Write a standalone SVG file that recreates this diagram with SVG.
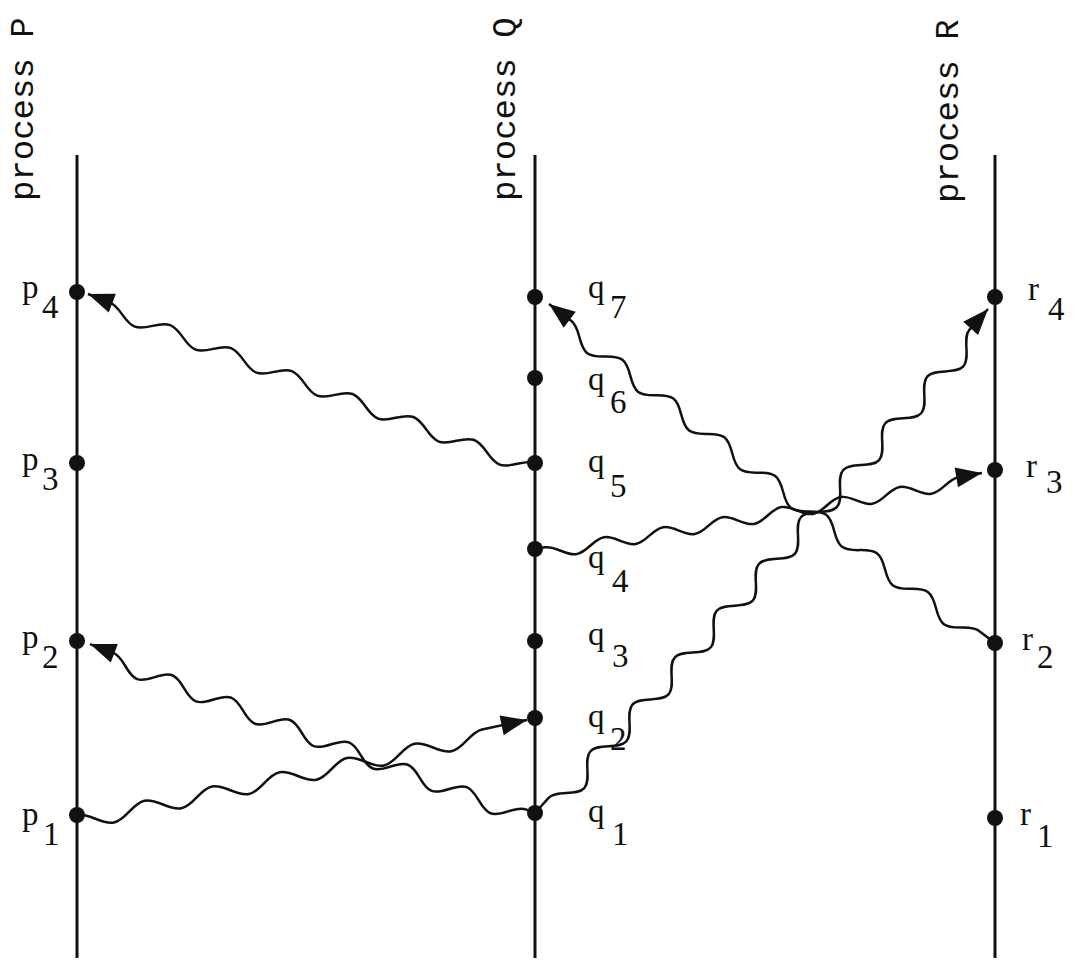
<svg xmlns="http://www.w3.org/2000/svg" width="1080" height="961" viewBox="0 0 1080 961">
<style>
.proc{font-family:"Liberation Mono","DejaVu Sans Mono",monospace;font-size:34px;fill:#111}
.ev{font-family:"Liberation Serif","DejaVu Serif",serif;font-size:33px;fill:#111}
.life{stroke:#111;stroke-width:3;fill:none}
.msg{stroke:#111;stroke-width:2.5;fill:none;marker-end:url(#arr)}
.dot{fill:#111}
</style>
<defs>
<marker id="arr" markerUnits="userSpaceOnUse" markerWidth="30" markerHeight="24" viewBox="-28 -12 30 24" refX="0" refY="0" orient="auto">
<path d="M0,0 L-26,-10 L-26,10 Z" fill="#111"/>
</marker>
</defs>
<rect width="1080" height="961" fill="#fff"/>
<g id="process-P">
<text class="proc" transform="translate(33,201) rotate(-90)">process P</text>
<line class="life" x1="77" y1="155" x2="77" y2="958"/>
</g>
<g id="process-Q">
<text class="proc" transform="translate(515,201) rotate(-90)">process Q</text>
<line class="life" x1="535" y1="155" x2="535" y2="958"/>
</g>
<g id="process-R">
<text class="proc" transform="translate(958,203) rotate(-90)">process R</text>
<line class="life" x1="995" y1="155" x2="995" y2="958"/>
</g>
<g id="connectors">
<path id="p1-q2" class="msg" transform="translate(77,815) rotate(-11.92)" d="M0,0 c12.56,0 21.94,15 34.5,15 s21.94,-15 34.5,-15 s21.94,15 34.5,15 s21.94,-15 34.5,-15 s21.94,15 34.5,15 s21.94,-15 34.5,-15 s21.94,15 34.5,15 s21.94,-15 34.5,-15 s21.94,15 34.5,15 s21.94,-15 34.5,-15 s21.94,15 34.5,15 s21.94,-15 34.5,-15 l46,0"/>
<path id="q1-p2" class="msg" transform="translate(535,813) rotate(-159.21)" d="M0,0 l10,0 c11.47,0 20.03,-16 31.5,-16 s20.03,16 31.5,16 s20.03,-16 31.5,-16 s20.03,16 31.5,16 s20.03,-16 31.5,-16 s20.03,16 31.5,16 s20.03,-16 31.5,-16 s20.03,16 31.5,16 s20.03,-16 31.5,-16 s20.03,16 31.5,16 s20.03,-16 31.5,-16 s20.03,16 31.5,16 s20.03,-16 31.5,-16 s20.03,16 31.5,16 l25,0"/>
<path id="q5-p4" class="msg" transform="translate(535,463) rotate(-159.29)" d="M0,0 c11.83,0 20.67,-14 32.5,-14 s20.67,14 32.5,14 s20.67,-14 32.5,-14 s20.67,14 32.5,14 s20.67,-14 32.5,-14 s20.67,14 32.5,14 s20.67,-14 32.5,-14 s20.67,14 32.5,14 s20.67,-14 32.5,-14 s20.67,14 32.5,14 s20.67,-14 32.5,-14 s20.67,14 32.5,14 s20.67,-14 32.5,-14 s20.67,14 32.5,14 l22.9,0"/>
<path id="q1-r4" class="msg" transform="translate(535,813) rotate(-48.05)" d="M0,0 l20,0 c11.47,0 20.03,20 31.5,20 s20.03,-20 31.5,-20 s20.03,20 31.5,20 s20.03,-20 31.5,-20 s20.03,20 31.5,20 s20.03,-20 31.5,-20 s20.03,20 31.5,20 s20.03,-20 31.5,-20 s20.03,20 31.5,20 s20.03,-20 31.5,-20 s20.03,20 31.5,20 s20.03,-20 31.5,-20 s20.03,20 31.5,20 s20.03,-20 31.5,-20 s20.03,20 31.5,20 s20.03,-20 31.5,-20 s20.03,20 31.5,20 s20.03,-20 31.5,-20 s20.03,20 31.5,20 s20.03,-20 31.5,-20 l27.7,0"/>
<path id="q4-r3" class="msg" transform="translate(535,549) rotate(-9.65)" d="M0,0 l10,0 c10.92,0 19.08,12 30,12 s19.08,-12 30,-12 s19.08,12 30,12 s19.08,-12 30,-12 s19.08,12 30,12 s19.08,-12 30,-12 s19.08,12 30,12 s19.08,-12 30,-12 s19.08,12 30,12 s19.08,-12 30,-12 s19.08,12 30,12 s19.08,-12 30,-12 s19.08,12 30,12 s19.08,-12 30,-12 l23.4,0"/>
<path id="r2-q7" class="msg" transform="translate(995,643) rotate(-142.76)" d="M0,0 l20,0 c11.65,0 20.35,-16 32,-16 s20.35,16 32,16 s20.35,-16 32,-16 s20.35,16 32,16 s20.35,-16 32,-16 s20.35,16 32,16 s20.35,-16 32,-16 s20.35,16 32,16 s20.35,-16 32,-16 s20.35,16 32,16 s20.35,-16 32,-16 s20.35,16 32,16 s20.35,-16 32,-16 s20.35,16 32,16 s20.35,-16 32,-16 s20.35,16 32,16 l28.2,0"/>
</g>
<g id="p4"><circle class="dot" cx="77" cy="292" r="8"/><text class="ev" x="22" y="298">p<tspan x="42" y="318">4</tspan></text></g>
<g id="p3"><circle class="dot" cx="77" cy="463" r="8"/><text class="ev" x="22" y="470">p<tspan x="42" y="490">3</tspan></text></g>
<g id="p2"><circle class="dot" cx="77" cy="641" r="8"/><text class="ev" x="22" y="648">p<tspan x="42" y="668">2</tspan></text></g>
<g id="p1"><circle class="dot" cx="77" cy="815" r="8"/><text class="ev" x="22" y="825">p<tspan x="43" y="845">1</tspan></text></g>
<g id="q7"><circle class="dot" cx="535" cy="297" r="8"/><text class="ev" x="588" y="298">q<tspan x="610" y="318">7</tspan></text></g>
<g id="q6"><circle class="dot" cx="535" cy="378" r="8"/><text class="ev" x="588" y="390">q<tspan x="610" y="413">6</tspan></text></g>
<g id="q5"><circle class="dot" cx="535" cy="463" r="8"/><text class="ev" x="588" y="472">q<tspan x="610" y="497">5</tspan></text></g>
<g id="q4"><circle class="dot" cx="535" cy="549" r="8"/><text class="ev" x="588" y="568">q<tspan x="612" y="592">4</tspan></text></g>
<g id="q3"><circle class="dot" cx="535" cy="641" r="8"/><text class="ev" x="588" y="645">q<tspan x="612" y="667">3</tspan></text></g>
<g id="q2"><circle class="dot" cx="535" cy="718" r="8"/><text class="ev" x="588" y="727">q<tspan x="610" y="750">2</tspan></text></g>
<g id="q1"><circle class="dot" cx="535" cy="813" r="8"/><text class="ev" x="588" y="822">q<tspan x="612" y="845">1</tspan></text></g>
<g id="r4"><circle class="dot" cx="995" cy="297" r="8"/><text class="ev" x="1028" y="300">r<tspan x="1048" y="320">4</tspan></text></g>
<g id="r3"><circle class="dot" cx="995" cy="470" r="8"/><text class="ev" x="1026" y="477">r<tspan x="1046" y="493">3</tspan></text></g>
<g id="r2"><circle class="dot" cx="995" cy="643" r="8"/><text class="ev" x="1022" y="650">r<tspan x="1037" y="668">2</tspan></text></g>
<g id="r1"><circle class="dot" cx="995" cy="818" r="8"/><text class="ev" x="1020" y="825">r<tspan x="1037" y="847">1</tspan></text></g>
</svg>
